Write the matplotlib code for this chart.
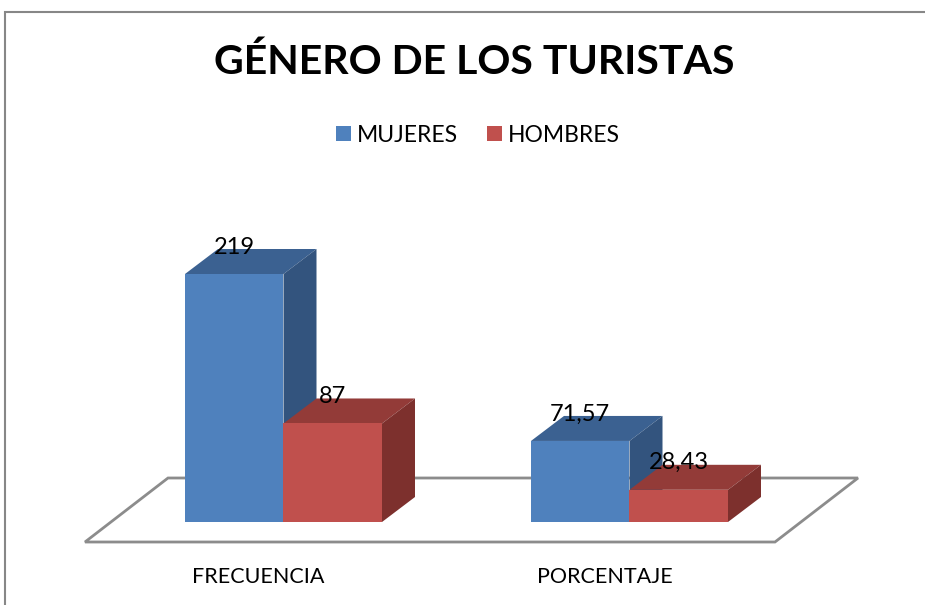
import matplotlib
matplotlib.use("Agg")
import matplotlib.pyplot as plt
from matplotlib.patches import Polygon, Rectangle
import numpy as np

# ---- data ----
categories = ["FRECUENCIA", "PORCENTAJE"]
series_names = ["MUJERES", "HOMBRES"]
mujeres = [219, 71.57]
hombres = [87, 28.43]
value_labels_m = ["219", "71,57"]
value_labels_h = ["87", "28,43"]
title = "GÉNERO DE LOS TURISTAS"

# ---- styling ----
front_cols = ["#4F81BD", "#C0504D"]
top_cols = ["#3B6191", "#933B38"]
side_cols = ["#33547E", "#7D302D"]
FONT = ["Lato", "DejaVu Sans"]

W, H = 925, 605
fig = plt.figure(figsize=(W / 100, H / 100), dpi=100)
ax = fig.add_axes([0, 0, 1, 1])

# pixel mapping: category spacing 346 px, value scale 1.1324 px/unit
xs_px = 346.0
ys_px = 1.1324
x0_px, y0_px = 283.5, 522.0
ax.set_xlim((0 - x0_px) / xs_px, (W - x0_px) / xs_px)
ax.set_ylim((y0_px - H) / ys_px, y0_px / ys_px)
ax.axis("off")

bw = 98.5 / xs_px          # bar width in category units
ddx = 33 / xs_px           # bar depth offset (x)
ddy = 25 / ys_px           # bar depth offset (y)

# floor
fdx = 83 / xs_px
fdy = 64 / ys_px
f_front = -20 / ys_px
fl = -(283.5 - 85) / xs_px
fr = (775 - 283.5) / xs_px
floor = Polygon([(fl, f_front), (fr, f_front), (fr + fdx, f_front + fdy),
                 (fl + fdx, f_front + fdy)], closed=True, facecolor="white",
                edgecolor="#8C8C8C", lw=2, zorder=1)
ax.add_patch(floor)

xpos = np.arange(len(categories))
series = [mujeres, hombres]
labels = [value_labels_m, value_labels_h]
handles = []
z = 2
for i, cx in enumerate(xpos):
    for s, vals in enumerate(series):
        left = cx - bw + s * bw
        v = vals[i]
        top = Polygon([(left, v), (left + bw, v), (left + bw + ddx, v + ddy),
                       (left + ddx, v + ddy)], closed=True,
                      facecolor=top_cols[s], edgecolor="none", zorder=z)
        side = Polygon([(left + bw, 0), (left + bw + ddx, ddy),
                        (left + bw + ddx, v + ddy), (left + bw, v)], closed=True,
                       facecolor=side_cols[s], edgecolor="none", zorder=z)
        ax.add_patch(top)
        ax.add_patch(side)
        b = ax.bar(left, v, width=bw, align="edge", color=front_cols[s],
                   zorder=z + 0.5, label=series_names[s] if i == 0 else None)
        if i == 0:
            handles.append(b)
        ax.text(left + bw / 2, v + 27 / ys_px, labels[s][i], ha="center",
                va="center", fontsize=17, family=FONT, color="black",
                zorder=10)
        z += 1

# category labels
for cx, name in zip(xpos, categories):
    ax.text(cx - 25 / xs_px, (y0_px - 577) / ys_px, name, ha="center",
            va="center", fontsize=15.5, family=FONT, color="black")

# title
fig.text(474 / W, 1 - 62 / H, title, ha="center", va="center",
         fontsize=29.5, fontweight="bold", family=FONT)

# legend
leg = fig.legend(handles=handles, labels=series_names, loc="center",
                 bbox_to_anchor=(478 / W, 1 - 135 / H), ncol=2, frameon=False,
                 prop={"family": FONT, "size": 16.5}, handlelength=0.65,
                 handleheight=0.65, handletextpad=0.25, columnspacing=1.3)

# outer frame (chart area border)
fig.patches.append(Rectangle((5 / W, -0.1), 1.2, 1 - 12 / H + 0.1,
                             transform=fig.transFigure, fill=False,
                             edgecolor="#878787", lw=1.5))

fig.savefig("out.png", dpi=100)
